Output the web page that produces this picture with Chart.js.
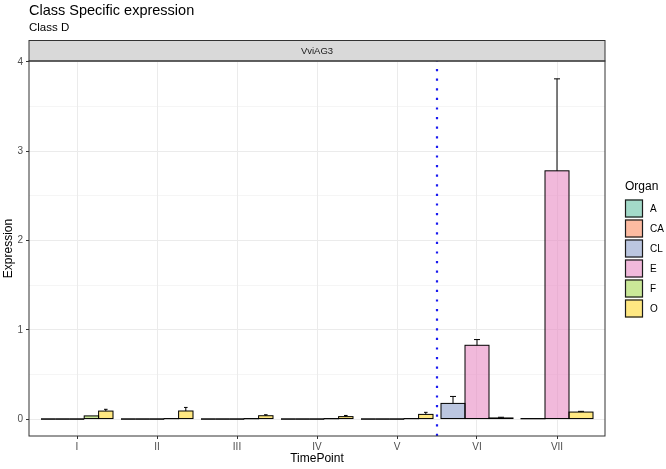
<!DOCTYPE html>
<html>
<head>
<meta charset="utf-8">
<script src="https://cdn.jsdelivr.net/npm/chart.js@4.4.0/dist/chart.umd.min.js"></script>
<style>
  html, body { margin: 0; padding: 0; background: #fff; }
  canvas { display: block; }
</style>
</head>
<body>
<canvas id="myChart" width="666" height="469"></canvas>
<script>
// values
const timePoints = ['I', 'II', 'III', 'IV', 'V', 'VI', 'VII'];
const organs = ['A', 'CA', 'CL', 'E', 'F', 'O'];

const valA  = [0, 0, 0, 0, 0, null, null];
const valCA = [0, 0, 0, 0, 0, null, null];
const valCL = [null, null, null, null, null, 0.175, 0.003];
const valE  = [0, 0, 0, 0, 0, 0.826, 2.78];
const valF  = [0.035, 0.004, 0.003, 0.003, 0.004, null, null];
const valO  = [0.089, 0.09, 0.037, 0.027, 0.052, 0.012, 0.078];

// upper error (sd) per bar
const errA  = [0, 0, 0, 0, 0, null, null];
const errCA = [0, 0, 0, 0, 0, null, null];
const errCL = [null, null, null, null, null, 0.078, 0];
const errE  = [0, 0, 0, 0, 0, 0.064, 1.03];
const errF  = [0, 0, 0, 0, 0, null, null];
const errO  = [0.02, 0.04, 0.011, 0.013, 0.023, 0.008, 0.008];

const yMajor = [0, 1, 2, 3, 4];
const yMinor = [0.5, 1.5, 2.5, 3.5];
const dividerAt = 4.5; // between V and VI

// styling
const FONT = '"Liberation Sans", Arial, sans-serif';
const organRgb = ['102,194,165', '252,141,98', '141,160,203', '231,138,195', '166,216,84', '255,217,47'];
const values = [valA, valCA, valCL, valE, valF, valO];
const errors = [errA, errCA, errCL, errE, errF, errO];
const xExpand = 0.6;

const datasets = organs.map((o, i) => ({
    label: o,
    data: values[i],
    errors: errors[i],
    backgroundColor: 'rgba(' + organRgb[i] + ',0.6)',
    borderWidth: 0
}));

const isMajor = v => yMajor.includes(v);

const decor = {
    id: 'decor',
    afterDatasetsDraw(chart) {
        const ctx = chart.ctx;
        const xs = chart.scales.x, ys = chart.scales.y, area = chart.chartArea;

        // dotted divider
        ctx.save();
        ctx.strokeStyle = '#1A1AF0';
        ctx.lineWidth = 2.2;
        ctx.setLineDash([2.2, 7.4]);
        const xd = xs.getPixelForValue(dividerAt);
        ctx.beginPath();
        ctx.moveTo(xd, area.bottom);
        ctx.lineTo(xd, area.top);
        ctx.stroke();
        ctx.restore();

        // bar outlines and error bars
        ctx.save();
        ctx.strokeStyle = '#000';
        ctx.lineWidth = 1;
        chart.data.datasets.forEach((ds, i) => {
            const meta = chart.getDatasetMeta(i);
            meta.data.forEach((bar, j) => {
                const v = ds.data[j];
                if (v === null) return;
                const p = bar.getProps(['x', 'y', 'base', 'width'], true);
                ctx.strokeRect(p.x - p.width / 2, Math.min(p.y, p.base), p.width, Math.abs(p.base - p.y));
                const e = ds.errors[j];
                if (e) {
                    const yt = ys.getPixelForValue(v + e);
                    ctx.beginPath();
                    ctx.moveTo(p.x, p.y);
                    ctx.lineTo(p.x, yt);
                    ctx.moveTo(p.x - p.width * 0.125, yt);
                    ctx.lineTo(p.x + p.width * 0.125, yt);
                    ctx.stroke();
                }
            });
        });
        ctx.restore();
    },
    afterDraw(chart) {
        const ctx = chart.ctx, area = chart.chartArea;
        ctx.save();

        // titles
        ctx.fillStyle = '#000';
        ctx.textAlign = 'left';
        ctx.textBaseline = 'alphabetic';
        ctx.font = '14.5px ' + FONT;
        ctx.fillText('Class Specific expression', area.left, 14.5);
        ctx.font = '11.5px ' + FONT;
        ctx.fillText('Class D', area.left, 31);

        // facet strip
        ctx.fillStyle = '#D9D9D9';
        ctx.fillRect(area.left, 40.5, area.right - area.left, area.top - 40.5);
        ctx.strokeStyle = '#333333';
        ctx.lineWidth = 1;
        ctx.strokeRect(area.left, 40.5, area.right - area.left, area.top - 40.5);
        ctx.fillStyle = '#1A1A1A';
        ctx.font = '9.5px ' + FONT;
        ctx.textAlign = 'center';
        ctx.textBaseline = 'middle';
        ctx.fillText('VviAG3', (area.left + area.right) / 2, (40.5 + area.top) / 2 + 0.5);

        // panel border
        ctx.strokeRect(area.left, area.top, area.right - area.left, area.bottom - area.top);

        // legend
        const lx = 625, ly = 199.5;
        ctx.fillStyle = '#000';
        ctx.textAlign = 'left';
        ctx.font = '12px ' + FONT;
        ctx.fillText('Organ', lx, 187);
        ctx.font = '10px ' + FONT;
        chart.data.datasets.forEach((ds, i) => {
            const top = ly + i * 20;
            ctx.fillStyle = '#fff';
            ctx.fillRect(lx, top, 18, 18);
            ctx.fillStyle = ds.backgroundColor;
            ctx.fillRect(lx, top, 18, 18);
            ctx.strokeStyle = '#1A1A1A';
            ctx.lineWidth = 1.2;
            ctx.strokeRect(lx + 0.5, top + 0.5, 17, 17);
            ctx.fillStyle = '#000';
            ctx.fillText(ds.label, lx + 25, top + 9.5);
        });
        ctx.restore();
    }
};

const ctx = document.getElementById('myChart').getContext('2d');
const myChart = new Chart(ctx, {
    type: 'bar',
    data: { labels: timePoints, datasets: datasets },
    plugins: [decor],
    options: {
        responsive: false,
        devicePixelRatio: 1,
        animation: false,
        layout: { padding: { top: 61, right: 61, left: 0, bottom: 0 } },
        datasets: { bar: { skipNull: true, categoryPercentage: 0.9, barPercentage: 1 } },
        plugins: { legend: { display: false }, tooltip: { enabled: false } },
        scales: {
            x: {
                type: 'category',
                offset: true,
                grid: { offset: false, color: '#EBEBEB', lineWidth: 1, tickColor: '#333333', tickLength: 3 },
                border: { display: false },
                ticks: { color: '#4D4D4D', font: { family: FONT, size: 10 }, padding: 2, autoSkip: false, maxRotation: 0 },
                title: { display: true, text: 'TimePoint', color: '#000', font: { family: FONT, size: 12 }, padding: { top: 0, bottom: 3 } },
                afterBuildTicks: scale => {
                    scale._startValue = -xExpand;
                    scale._valueRange = timePoints.length - 1 + 2 * xExpand;
                },
                afterFit: scale => { scale.height = 33; }
            },
            y: {
                min: -0.19,
                max: 4.01,
                afterBuildTicks: scale => {
                    scale.ticks = yMajor.concat(yMinor).sort((a, b) => a - b).map(v => ({ value: v }));
                },
                grid: {
                    color: '#EBEBEB',
                    lineWidth: c => (c.tick && isMajor(c.tick.value)) ? 1 : 0.5,
                    tickColor: c => (c.tick && isMajor(c.tick.value)) ? '#333333' : 'rgba(0,0,0,0)',
                    tickLength: 3
                },
                border: { display: false },
                ticks: {
                    color: '#4D4D4D',
                    font: { family: FONT, size: 10 },
                    padding: 3,
                    autoSkip: false,
                    callback: v => isMajor(v) ? String(v) : ''
                },
                title: { display: true, text: 'Expression', color: '#000', font: { family: FONT, size: 12 }, padding: { top: 1, bottom: 0 } },
                afterFit: scale => { scale.width = 29; }
            }
        }
    }
});
</script>
</body>
</html>
